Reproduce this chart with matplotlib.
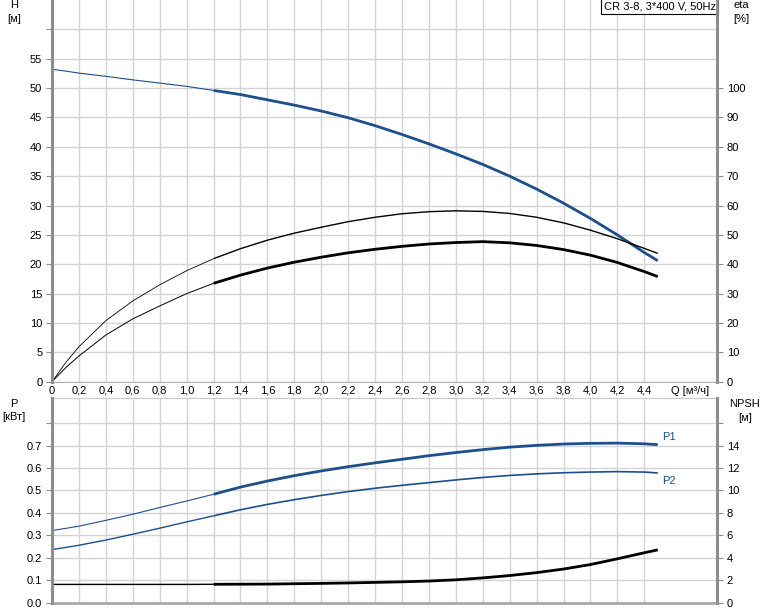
import numpy as np
import matplotlib.pyplot as plt

plt.rcParams['font.family'] = ['Liberation Sans', 'DejaVu Sans']

# flow points [m3/h]
q = [0.0, 0.1, 0.2, 0.4, 0.6, 0.8, 1.0, 1.2, 1.4, 1.6, 1.8, 2.0, 2.2, 2.4,
     2.6, 2.8, 3.0, 3.2, 3.4, 3.6, 3.8, 4.0, 4.2, 4.4, 4.5]
# head [m]
head = [53.2, 52.9, 52.55, 52.0, 51.4, 50.85, 50.3, 49.6, 48.9, 48.0, 47.1, 46.1, 44.95, 43.6,
        42.1, 40.5, 38.8, 37.0, 35.0, 32.8, 30.4, 27.8, 25.0, 22.0, 20.6]
# pump efficiency [%]
eta_pump = [0.0, 6.4, 11.9, 20.8, 27.5, 33.0, 37.8, 41.9, 45.3, 48.2, 50.6, 52.6, 54.5, 56.0,
            57.2, 57.9, 58.2, 58.0, 57.3, 56.0, 54.1, 51.6, 48.7, 45.4, 43.7]
# total efficiency [%]
eta_total = [0.0, 4.7, 8.75, 15.9, 21.4, 25.8, 30.0, 33.5, 36.3, 38.7, 40.7, 42.4, 43.9, 45.1,
             46.1, 46.9, 47.4, 47.7, 47.3, 46.4, 45.0, 43.1, 40.6, 37.5, 35.8]
# power [kW]
p1 = [0.3215, 0.331, 0.341, 0.367, 0.394, 0.424, 0.453, 0.483, 0.515, 0.542, 0.566, 0.587, 0.606, 0.623,
      0.639, 0.655, 0.669, 0.682, 0.693, 0.701, 0.707, 0.710, 0.711, 0.708, 0.704]
p2 = [0.237, 0.246, 0.256, 0.279, 0.305, 0.332, 0.360, 0.387, 0.414, 0.438, 0.459, 0.478, 0.495, 0.510,
      0.523, 0.535, 0.547, 0.558, 0.567, 0.574, 0.579, 0.582, 0.584, 0.582, 0.578]
# NPSH [m]
npsh = [1.63, 1.63, 1.63, 1.63, 1.63, 1.63, 1.63, 1.64, 1.65, 1.66, 1.69, 1.72, 1.76, 1.81,
        1.86, 1.93, 2.04, 2.21, 2.42, 2.68, 3.0, 3.4, 3.91, 4.45, 4.71]

q_ticks = [round(0.2 * i, 1) for i in range(23)]
q_labels = [f'{v:.1f}'.replace('.', ',') if v > 0 else '0' for v in q_ticks]
h_ticks = list(range(0, 61, 5))
eta_ticks = list(range(0, 101, 10))
p_ticks = [0.0, 0.1, 0.2, 0.3, 0.4, 0.5, 0.6, 0.7, 0.8]
npsh_ticks = list(range(0, 17, 2))

q = np.array(q)
split = q.tolist().index(1.2)  # duty range starts at 1.2 m3/h

BLUE = '#1c4f8c'
GRID = '#d4d4d4'
SPINE = '#8c8c8c'
FS = 8

fig = plt.figure(figsize=(7.74, 6.11), dpi=100)
W, H = 774, 611


def box(l, t, r, b):
    return [l / W, 1 - b / H, (r - l) / W, (b - t) / H]


def style(ax, twin):
    for a in (ax, twin):
        a.spines['top'].set_visible(False)
        a.spines['bottom'].set_visible(False)
        a.spines['left'].set_color(SPINE)
        a.spines['right'].set_color(SPINE)
        a.spines['left'].set_linewidth(2)
        a.spines['right'].set_linewidth(2)
        a.tick_params(axis='y', length=4, width=0.8, color=SPINE, labelsize=FS, pad=3)
        a.tick_params(axis='x', length=0, labelsize=FS, pad=3)
    ax.set_xlim(0, 4.94)
    ax.set_xticks(q_ticks)
    ax.grid(True, color=GRID, linewidth=1)
    ax.set_axisbelow(True)


def seg(ax, y, color, thin, thick):
    ax.plot(q[:split + 1], y[:split + 1], color=color, lw=thin, solid_capstyle='butt')
    ax.plot(q[split:], y[split:], color=color, lw=thick, solid_capstyle='butt')


# ---- top: head + efficiency
ax1 = fig.add_axes(box(52, 0, 717, 381.7))
ax1e = ax1.twinx()
style(ax1, ax1e)
ax1.set_ylim(0, 65)
ax1e.set_ylim(0, 130)
ax1.set_yticks(h_ticks)
ax1.set_yticklabels([str(v) for v in h_ticks[:-1]] + [''])
ax1e.set_yticks(eta_ticks)
ax1.set_xticklabels(q_labels)
ax1.spines['bottom'].set_visible(True)
ax1.spines['bottom'].set_color('#b0b0b0')

seg(ax1e, np.array(eta_pump), 'black', 0.6, 1.0)
seg(ax1e, np.array(eta_total), 'black', 0.7, 2.0)
seg(ax1, np.array(head), BLUE, 0.8, 2.0)

ax1.text(0.998, 0.997, 'CR 3-8, 3*400 V, 50Hz', transform=ax1.transAxes, ha='right', va='top',
         fontsize=FS, bbox=dict(boxstyle='square,pad=0.25', fc='white', ec='black', lw=0.8),
         zorder=10)
ax1.text(4.74, -0.012, 'Q [м³/ч]', transform=ax1.get_xaxis_transform(), ha='center', va='top',
         fontsize=FS)

fig.text(14 / W, 1 - 5 / H, 'H', ha='center', va='center', fontsize=FS)
fig.text(14 / W, 1 - 19 / H, '[м]', ha='center', va='center', fontsize=FS)
fig.text(741 / W, 1 - 5 / H, 'eta', ha='center', va='center', fontsize=FS)
fig.text(741 / W, 1 - 19 / H, '[%]', ha='center', va='center', fontsize=FS)

# ---- bottom: power + NPSH
ax2 = fig.add_axes(box(52, 398, 717, 602.7))
ax2n = ax2.twinx()
style(ax2, ax2n)
ax2.set_ylim(0, 0.912)
ax2n.set_ylim(0, 18.24)
ax2.set_yticks(p_ticks)
ax2.set_yticklabels([f'{v:.1f}' for v in p_ticks[:-1]] + [''])
ax2n.set_yticks(npsh_ticks)
ax2n.set_yticklabels([str(v) for v in npsh_ticks[:-1]] + [''])
ax2.set_xticklabels([])
ax2.spines['bottom'].set_visible(True)
ax2.spines['bottom'].set_color('#a8a8a8')
ax2.spines['bottom'].set_linewidth(2)
ax2.spines['top'].set_visible(True)
ax2.spines['top'].set_color('#c8c8c8')

seg(ax2, np.array(p1), BLUE, 0.8, 2.0)
seg(ax2, np.array(p2), BLUE, 1.0, 1.2)
seg(ax2n, np.array(npsh), 'black', 1.0, 2.0)

ax2.text(4.53, p1[-1] + 0.012, 'P1', color=BLUE, fontsize=FS, ha='left', va='bottom')
ax2.text(4.53, p2[-1] - 0.012, 'P2', color=BLUE, fontsize=FS, ha='left', va='top')

fig.text(14 / W, 1 - 404 / H, 'P', ha='center', va='center', fontsize=FS)
fig.text(14 / W, 1 - 417 / H, '[кВт]', ha='center', va='center', fontsize=FS)
fig.text(745 / W, 1 - 404 / H, 'NPSH', ha='center', va='center', fontsize=FS)
fig.text(745 / W, 1 - 418 / H, '[м]', ha='center', va='center', fontsize=FS)

fig.savefig('out.png', dpi=100)
